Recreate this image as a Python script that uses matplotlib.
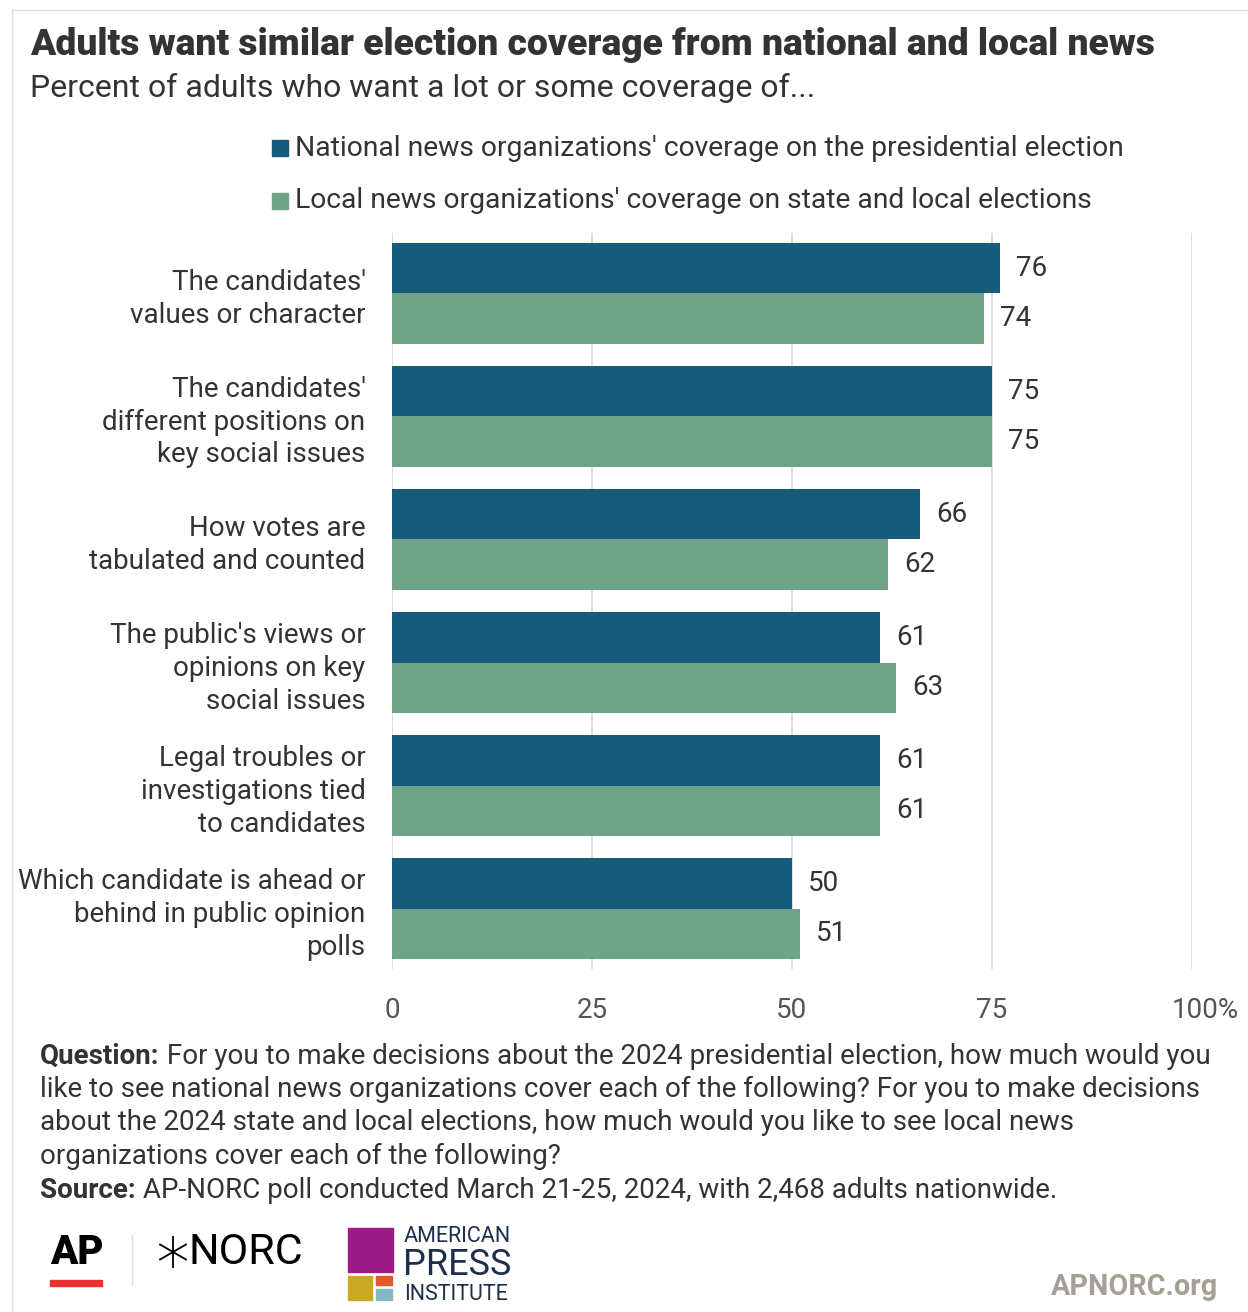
import numpy as np
import matplotlib.pyplot as plt
from matplotlib.patches import Rectangle
from matplotlib.lines import Line2D
from matplotlib.transforms import ScaledTranslation

plt.rcParams['font.family'] = ['Roboto', 'DejaVu Sans']

categories = [
    "The candidates'\nvalues or character",
    "The candidates'\ndifferent positions on\nkey social issues",
    "How votes are\ntabulated and counted",
    "The public's views or\nopinions on key\nsocial issues",
    "Legal troubles or\ninvestigations tied\nto candidates",
    "Which candidate is ahead or\nbehind in public opinion\npolls",
]
national = [76, 75, 66, 61, 61, 50]
local = [74, 75, 62, 63, 61, 51]
series_names = ["National news organizations' coverage on the presidential election",
                "Local news organizations' coverage on state and local elections"]
xticks = [0, 25, 50, 75, 100]
xtick_labels = ["0", "25", "50", "75", "100%"]

navy = '#175b7b'
green = '#6fa388'
text_col = '#333333'

W, H = 1248, 1312
fig = plt.figure(figsize=(W / 100, H / 100), dpi=100)

def fx(px):
    return px / W

def fy(py):
    return 1 - py / H

ax = fig.add_axes([fx(392), fy(969), fx(1192) - fx(392), fy(233) - fy(969)])
y = np.arange(len(categories))
h = 0.41
ax.barh(y - h / 2, national, height=h, color=navy, zorder=2)
ax.barh(y + h / 2, local, height=h, color=green, zorder=2)
for i in range(len(categories)):
    ax.text(national[i] + 2, y[i] - h / 2, str(national[i]), va='center', ha='left',
            fontsize=20, color=text_col)
    ax.text(local[i] + 2, y[i] + h / 2, str(local[i]), va='center', ha='left',
            fontsize=20, color=text_col)
ax.set_xlim(0, 100)
ax.set_ylim(5.49, -0.49)
ax.set_xticks(xticks)
ax.set_xticklabels(xtick_labels, fontsize=20, color='#555555')
ax.set_yticks(y)
ax.set_yticklabels(categories, fontsize=20, color=text_col, linespacing=1.27)
ax.tick_params(axis='both', length=0)
ax.tick_params(axis='x', pad=20)
ax.tick_params(axis='y', pad=19)
ax.grid(axis='x', color='#d9d9d9', linewidth=1.2, zorder=0)
for s in ax.spines.values():
    s.set_visible(False)
# "100%" sits with its number centred on the line, % hanging right
last = ax.get_xticklabels()[-1]
last.set_transform(last.get_transform() + ScaledTranslation(0.13, 0, fig.dpi_scale_trans))

# title and subtitle
fig.text(fx(30), fy(45), "Adults want similar election coverage from national and local news",
         fontsize=26.8, fontweight='black', color='#333333', va='center', ha='left')
fig.text(fx(30), fy(88), "Percent of adults who want a lot or some coverage of...",
         fontsize=23, color=text_col, va='center', ha='left')

# legend
for yy, name, c in [(148, series_names[0], navy), (201, series_names[1], green)]:
    fig.patches.append(Rectangle((fx(272), fy(yy + 8)), fx(16), fy(0) - fy(16),
                                 transform=fig.transFigure, color=c))
    fig.text(fx(295), fy(yy), name, fontsize=20.3, color=text_col, va='center', ha='left')

# footer notes
notes = [
    (1056, "Question:", " For you to make decisions about the 2024 presidential election, how much would you"),
    (1089, None, "like to see national news organizations cover each of the following? For you to make decisions"),
    (1123, None, "about the 2024 state and local elections, how much would you like to see local news"),
    (1156, None, "organizations cover each of the following?"),
    (1190, "Source:", " AP-NORC poll conducted March 21-25, 2024, with 2,468 adults nationwide."),
]
fig.canvas.draw()
r = fig.canvas.get_renderer()
for yy, bold, rest in notes:
    x0 = fx(40)
    if bold:
        t = fig.text(x0, fy(yy), bold, fontsize=20, fontweight='bold', color=text_col,
                     va='center', ha='left')
        bb = t.get_window_extent(renderer=r)
        x0 = bb.x1 / W
    fig.text(x0, fy(yy), rest, fontsize=20, color=text_col, va='center', ha='left')

# logos
fig.text(fx(50), fy(1252), "AP", fontsize=29, fontweight='black', color='black',
         va='center', ha='left')
fig.patches.append(Rectangle((fx(50), fy(1286)), fx(52), fy(0) - fy(6),
                             transform=fig.transFigure, color='#e8322f'))
fig.add_artist(Line2D([fx(132), fx(132)], [fy(1285), fy(1235)], color='#dddddd', lw=1))
cx, cy, rr = 173, 1252, 15
for ang in [90, 30, 150]:
    a = np.deg2rad(ang)
    fig.add_artist(Line2D([fx(cx - rr * np.cos(a)), fx(cx + rr * np.cos(a))],
                          [fy(cy - rr * np.sin(a)), fy(cy + rr * np.sin(a))],
                          color='black', lw=1.3))
fig.text(fx(189), fy(1252), "NORC", fontsize=31, color='black', va='center', ha='left')

for (x0, y0, w, hh, c) in [(348, 1228, 45, 44, '#9c1b85'), (348, 1276, 24, 24, '#c9a824'),
                           (376, 1276, 16, 9, '#e8572a'), (376, 1289, 16, 11, '#7fb8c0')]:
    fig.patches.append(Rectangle((fx(x0), fy(y0 + hh)), fx(w), fy(0) - fy(hh),
                                 transform=fig.transFigure, color=c))
api = '#1d2f4d'
fig.text(fx(404), fy(1236), "AMERICAN", fontsize=15.5, color=api, va='center', ha='left')
fig.text(fx(403), fy(1265), "PRESS", fontsize=26, color=api, va='center', ha='left')
fig.text(fx(404), fy(1294), "INSTITUTE", fontsize=15.5, color=api, va='center', ha='left')

fig.text(fx(1218), fy(1287), "APNORC.org", fontsize=20.7, fontweight='bold', color='#a59f94',
         va='center', ha='right')

# frame
fig.add_artist(Line2D([fx(12), fx(12)], [fy(1312), fy(10)], color='#dddddd', lw=1))
fig.add_artist(Line2D([fx(12), fx(1246)], [fy(10), fy(10)], color='#dddddd', lw=1))

fig.savefig('out.png', dpi=100)
